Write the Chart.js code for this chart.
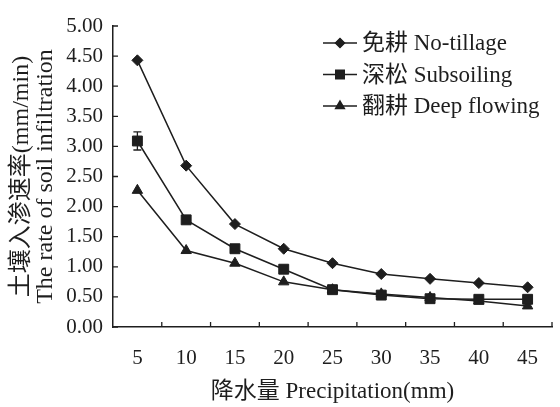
<!DOCTYPE html>
<html>
<head>
<meta charset="utf-8">
<script src="https://cdn.jsdelivr.net/npm/chart.js@4/dist/chart.umd.min.js"></script>
<style>
  html, body { margin: 0; padding: 0; background: #fff; }
  #wrap { position: relative; width: 560px; height: 407px; }
</style>
</head>
<body>
<div id="wrap"><canvas id="chart"></canvas></div>
<script>
const precipitation = ['5', '10', '15', '20', '25', '30', '35', '40', '45'];
const noTillage = [4.43, 2.68, 1.71, 1.30, 1.06, 0.88, 0.80, 0.73, 0.66];
const subsoiling = [3.09, 1.78, 1.30, 0.96, 0.62, 0.53, 0.47, 0.46, 0.46];
const deepFlowing = [2.27, 1.27, 1.06, 0.75, 0.62, 0.55, 0.49, 0.43, 0.35];
const subsoilingErr = [0.15, 0, 0, 0, 0, 0, 0, 0, 0];

const ink = '#1e1e1e';
const serif = "'Liberation Serif', 'Noto Sans CJK SC', serif";

const series = (label, data, pointStyle, radius) => ({
  label,
  data,
  borderColor: ink,
  backgroundColor: ink,
  borderWidth: 1.5,
  pointStyle,
  pointRadius: radius,
  pointBorderWidth: 1,
  tension: 0
});

// small inward tick marks on both axes
const innerTicks = {
  id: 'innerTicks',
  afterDraw(chart) {
    const { ctx, scales: { x, y } } = chart;
    ctx.save();
    ctx.strokeStyle = ink;
    ctx.lineWidth = 1.3;
    ctx.beginPath();
    const half = (x.getPixelForValue(1) - x.getPixelForValue(0)) / 2;
    precipitation.forEach((_, i) => {
      const px = x.getPixelForValue(i) + half;
      ctx.moveTo(px, y.bottom);
      ctx.lineTo(px, y.bottom - 5);
    });
    y.ticks.forEach(t => {
      const py = y.getPixelForValue(t.value);
      ctx.moveTo(x.left, py);
      ctx.lineTo(x.left + 5, py);
    });
    ctx.stroke();
    ctx.restore();
  }
};

// error bars drawn from the err array
const errorBars = {
  id: 'errorBars',
  afterDatasetsDraw(chart) {
    const { ctx, scales: { x, y } } = chart;
    ctx.save();
    ctx.strokeStyle = ink;
    ctx.lineWidth = 1.3;
    subsoilingErr.forEach((e, i) => {
      if (!e) return;
      const px = x.getPixelForValue(i);
      const top = y.getPixelForValue(subsoiling[i] + e);
      const bot = y.getPixelForValue(subsoiling[i] - e);
      ctx.beginPath();
      ctx.moveTo(px, top); ctx.lineTo(px, bot);
      ctx.moveTo(px - 4, top); ctx.lineTo(px + 4, top);
      ctx.moveTo(px - 4, bot); ctx.lineTo(px + 4, bot);
      ctx.stroke();
    });
    ctx.restore();
  }
};

// legend inside the plot: line + marker + label
const lineLegend = {
  id: 'lineLegend',
  afterDraw(chart) {
    const { ctx } = chart;
    const x0 = 323, y0 = 43, rowH = 31.5, len = 34;
    ctx.save();
    chart.data.datasets.forEach((ds, i) => {
      const cy = y0 + i * rowH;
      ctx.strokeStyle = ink;
      ctx.lineWidth = 1.5;
      ctx.beginPath();
      ctx.moveTo(x0, cy);
      ctx.lineTo(x0 + len, cy);
      ctx.stroke();
      ctx.fillStyle = ink;
      Chart.helpers.drawPoint(ctx, {
        pointStyle: ds.pointStyle,
        radius: ds.pointRadius - 1,
        rotation: 0,
        borderWidth: 1
      }, x0 + len / 2, cy);
      ctx.fill();
      ctx.font = '23px ' + serif;
      ctx.textBaseline = 'middle';
      ctx.textAlign = 'left';
      ctx.fillText(ds.label, x0 + len + 5, cy + 1);
    });
    ctx.restore();
  }
};

new Chart(document.getElementById('chart'), {
  type: 'line',
  data: {
    labels: precipitation,
    datasets: [
      series('免耕 No-tillage', noTillage, 'rectRot', 5.5),
      series('深松 Subsoiling', subsoiling, 'rect', 7),
      series('翻耕 Deep flowing', deepFlowing, 'triangle', 6)
    ]
  },
  options: {
    responsive: true,
    maintainAspectRatio: false,
    animation: false,
    layout: { padding: { top: 26, right: 0, left: 0, bottom: 0 } },
    plugins: {
      legend: { display: false },
      tooltip: { enabled: false }
    },
    scales: {
      x: {
        type: 'category',
        offset: true,
        grid: { offset: true, drawOnChartArea: false, drawTicks: false },
        border: { display: true, color: ink, width: 1.5 },
        ticks: { color: ink, padding: 19, font: { family: serif, size: 21 }, maxRotation: 0 },
        title: {
          display: true,
          text: '降水量 Precipitation(mm)',
          color: ink,
          font: { family: serif, size: 23 },
          padding: { top: 0, bottom: 1 }
        },
        afterFit: s => { s.height = 80; }
      },
      y: {
        min: 0,
        max: 5,
        grid: { drawOnChartArea: false, drawTicks: false },
        border: { display: true, color: ink, width: 1.5 },
        ticks: {
          stepSize: 0.5,
          color: ink,
          padding: 10,
          font: { family: serif, size: 21 },
          callback: v => v.toFixed(2)
        },
        title: {
          display: true,
          text: ['土壤入渗速率(mm/min)', 'The rate of soil infiltration'],
          color: ink,
          font: { family: serif, size: 24, lineHeight: 1.0 },
          padding: { top: 10, bottom: 0 }
        },
        afterFit: s => { s.width = 113; }
      }
    }
  },
  plugins: [innerTicks, errorBars, lineLegend]
});
</script>
</body>
</html>
